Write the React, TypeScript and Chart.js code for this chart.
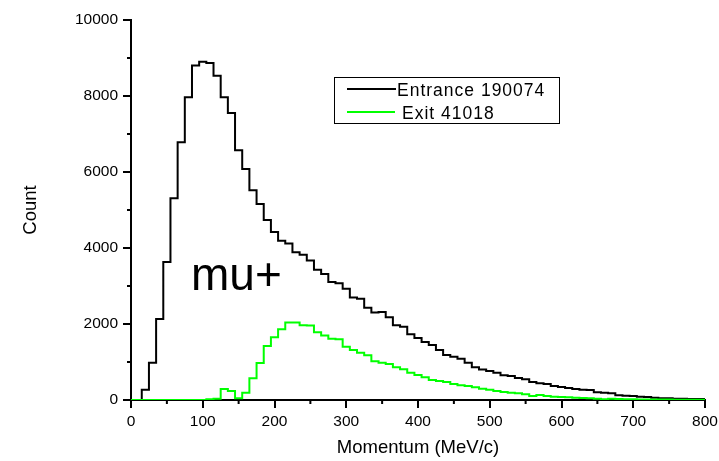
import React, { useEffect, useRef } from "react";
import { Chart, registerables } from "chart.js";
Chart.register(...registerables);

const momentum = [
  0, 10, 20, 30, 40, 50, 60, 70, 80, 90,
  100, 110, 120, 130, 140, 150, 160, 170, 180, 190,
  200, 210, 220, 230, 240, 250, 260, 270, 280, 290,
  300, 310, 320, 330, 340, 350, 360, 370, 380, 390,
  400, 410, 420, 430, 440, 450, 460, 470, 480, 490,
  500, 510, 520, 530, 540, 550, 560, 570, 580, 590,
  600, 610, 620, 630, 640, 650, 660, 670, 680, 690,
  700, 710, 720, 730, 740, 750, 760, 770, 780, 790,
  800,
];

const entrance = [
  0, 0, 270, 980, 2130, 3630, 5310, 6780, 7970, 8800,
  8900, 8870, 8530, 7970, 7550, 6570, 6080, 5520, 5160, 4740,
  4420, 4190, 4120, 3890, 3820, 3670, 3430, 3316, 3105, 3070,
  2930, 2700, 2665, 2430, 2300, 2316, 2175, 1965, 1930, 1730,
  1630, 1526, 1447, 1316, 1184, 1140, 1087, 982, 860, 800,
  763, 720, 649, 632, 579, 544, 474, 439, 421, 368,
  342, 316, 290, 272, 263, 202, 193, 175, 123, 114,
  105, 88, 79, 61, 44, 44, 35, 35, 26, 26,
  26,
];

const exit = [
  0, 0, 0, 0, 0, 0, 0, 0, 0, 0,
  0, 20, 30, 290, 237, 44, 193, 570, 974, 1420,
  1650, 1860, 2040, 2040, 1970, 1960, 1780, 1700, 1614, 1600,
  1404, 1316, 1246, 1175, 1018, 982, 947, 860, 807, 719,
  658, 596, 526, 500, 474, 421, 386, 368, 333, 298,
  270, 240, 210, 192, 175, 149, 105, 131, 105, 88,
  79, 70, 61, 53, 44, 35, 18, 35, 26, 18,
  18, 15, 12, 12, 10, 10, 8, 8, 6, 6,
  5,
];

const seriesLabels = ["Entrance 190074", "Exit 41018"];
const seriesColors = ["#000000", "#00ff00"];
const xMinorTicks = [50, 150, 250, 350, 450, 550, 650, 750];
const yMinorTicks = [1000, 3000, 5000, 7000, 9000];
const annotationText = "mu+";
const FONT = "'Liberation Sans', Arial, sans-serif";

const extrasPlugin = {
  id: "extras",
  afterDraw(chart: any) {
    const { ctx, chartArea, scales } = chart;
    const xs = scales.x;
    const ys = scales.y;
    ctx.save();
    ctx.strokeStyle = "#000";
    ctx.lineWidth = 2;
    ctx.beginPath();
    for (const v of xMinorTicks) {
      const px = xs.getPixelForValue(v);
      ctx.moveTo(px, chartArea.bottom);
      ctx.lineTo(px, chartArea.bottom + 4);
    }
    for (const v of yMinorTicks) {
      const py = ys.getPixelForValue(v);
      ctx.moveTo(chartArea.left, py);
      ctx.lineTo(chartArea.left - 4, py);
    }
    ctx.stroke();

    ctx.lineWidth = 1;
    ctx.strokeStyle = "#000";
    ctx.strokeRect(334.5, 77.5, 225, 46);
    ctx.lineWidth = 2;
    ctx.strokeStyle = seriesColors[0];
    ctx.beginPath();
    ctx.moveTo(347, 89);
    ctx.lineTo(396, 89);
    ctx.stroke();
    ctx.strokeStyle = seriesColors[1];
    ctx.beginPath();
    ctx.moveTo(347, 112);
    ctx.lineTo(395, 112);
    ctx.stroke();
    ctx.fillStyle = "#000";
    ctx.font = `17.5px ${FONT}`;
    ctx.textBaseline = "alphabetic";
    ctx.textAlign = "left";
    try { (ctx as any).letterSpacing = "1px"; } catch (e) {}
    ctx.fillText(seriesLabels[0], 397, 96);
    ctx.fillText(seriesLabels[1], 402, 119);
    try { (ctx as any).letterSpacing = "0px"; } catch (e) {}

    ctx.font = `46px ${FONT}`;
    ctx.fillText(annotationText, 191, 290);
    ctx.restore();
  },
};

export default function App() {
  const ref = useRef<HTMLCanvasElement | null>(null);

  useEffect(() => {
    document.body.style.margin = "0";
    const canvas = ref.current;
    if (!canvas) return;
    const chart = new Chart(canvas, {
      type: "line",
      data: {
        datasets: [
          {
            label: seriesLabels[0],
            data: momentum.map((m, i) => ({ x: m, y: entrance[i] })),
            borderColor: seriesColors[0],
            borderWidth: 2,
            pointRadius: 0,
            stepped: "middle",
            fill: false,
            order: 1,
          },
          {
            label: seriesLabels[1],
            data: momentum.map((m, i) => ({ x: m, y: exit[i] })),
            borderColor: seriesColors[1],
            borderWidth: 2,
            pointRadius: 0,
            stepped: "middle",
            fill: false,
            order: 0,
          },
        ],
      },
      options: {
        responsive: false,
        animation: false,
        devicePixelRatio: 1,
        layout: { padding: { top: 20, right: 14, left: 0, bottom: 0 } },
        plugins: { legend: { display: false }, tooltip: { enabled: false } },
        scales: {
          x: {
            type: "linear",
            min: 0,
            max: 800,
            afterFit: (s: any) => { s.height = 61; s.paddingRight = 0; s.paddingLeft = 0; },
            ticks: { stepSize: 100, color: "#000", padding: 4, font: { family: FONT, size: 15.5 }, maxRotation: 0, callback: (v: any) => String(v) },
            grid: { drawOnChartArea: false, drawTicks: true, tickLength: 8, lineWidth: 2, color: "#000" },
            border: { display: true, color: "#000", width: 2 },
            title: { display: true, text: "Momentum (MeV/c)", color: "#000", font: { family: FONT, size: 18.5 }, padding: { top: 0, bottom: 1.5 } },
          },
          y: {
            type: "linear",
            min: 0,
            max: 10000,
            afterFit: (s: any) => { s.width = 131; s.paddingTop = 0; s.paddingBottom = 0; },
            ticks: { stepSize: 2000, color: "#000", padding: 5, font: { family: FONT, size: 15.5 }, callback: (v: any) => String(v) },
            grid: { drawOnChartArea: false, drawTicks: true, tickLength: 8, lineWidth: 2, color: "#000" },
            border: { display: true, color: "#000", width: 2 },
            title: { display: true, text: "Count", color: "#000", font: { family: FONT, size: 18.5 }, padding: { top: 20, bottom: 0 } },
          },
        },
      },
      plugins: [extrasPlugin],
    } as any);
    return () => chart.destroy();
  }, []);

  return (
    <div style={{ width: 719, height: 461 }}>
      <canvas ref={ref} width={719} height={461} style={{ display: "block" }} />
    </div>
  );
}
